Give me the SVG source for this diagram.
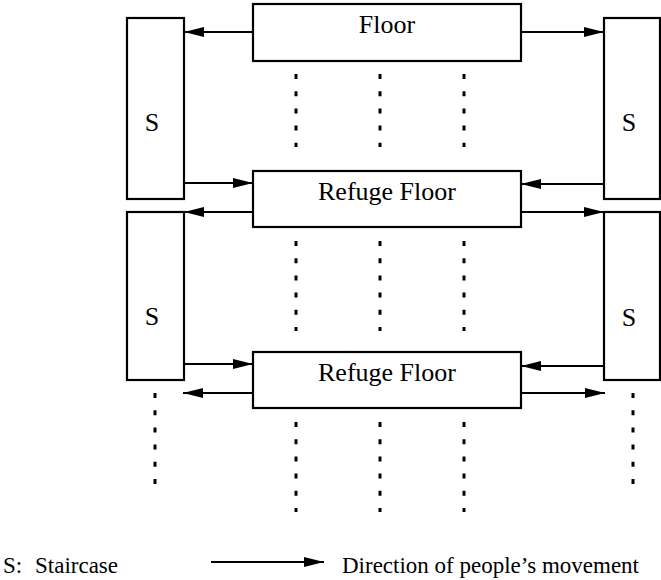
<svg xmlns="http://www.w3.org/2000/svg" width="661" height="580" viewBox="0 0 661 580">
<style>
.box{fill:#fff;stroke:#000;stroke-width:2.2}
.lbl{font-family:"Liberation Serif","Times New Roman",serif;font-size:26px;fill:#000}
.leg{font-family:"Liberation Serif","Times New Roman",serif;font-size:23px;fill:#000}
.arr{stroke:#000;stroke-width:2;fill:none;marker-end:url(#ah)}
.dot{stroke:#000;stroke-width:3;fill:none;stroke-dasharray:5 12.2}
</style>
<defs>
<marker id="ah" markerUnits="userSpaceOnUse" markerWidth="20" markerHeight="11" refX="20" refY="5.5" orient="auto">
<path d="M0,0.5 L20,5.5 L0,10.5 z" fill="#000"/>
</marker>
</defs>
<rect width="661" height="580" fill="#fff"/>
<g id="floor"><rect class="box" x="253" y="4" width="268" height="57"/><text class="lbl" x="387" y="33" text-anchor="middle">Floor</text></g>
<g id="refuge1"><rect class="box" x="253" y="171" width="268" height="56"/><text class="lbl" x="387" y="200" text-anchor="middle">Refuge Floor</text></g>
<g id="refuge2"><rect class="box" x="253" y="352" width="268" height="56"/><text class="lbl" x="387" y="381" text-anchor="middle">Refuge Floor</text></g>
<g id="stairL1"><rect class="box" x="127" y="18" width="57" height="181"/><text class="lbl" x="152" y="131" text-anchor="middle">S</text></g>
<g id="stairL2"><rect class="box" x="127" y="212" width="57" height="168"/><text class="lbl" x="152" y="325" text-anchor="middle">S</text></g>
<g id="stairR1"><rect class="box" x="604" y="18" width="56" height="181"/><text class="lbl" x="629" y="131" text-anchor="middle">S</text></g>
<g id="stairR2"><rect class="box" x="604" y="212" width="56" height="168"/><text class="lbl" x="629" y="326" text-anchor="middle">S</text></g>
<g id="connectors">
<line class="arr" x1="253" y1="32" x2="184" y2="32"/>
<line class="arr" x1="521" y1="32" x2="604" y2="32"/>
<line class="arr" x1="184" y1="183" x2="253" y2="183"/>
<line class="arr" x1="604" y1="184" x2="521" y2="184"/>
<line class="arr" x1="253" y1="212" x2="184" y2="212"/>
<line class="arr" x1="521" y1="212" x2="604" y2="212"/>
<line class="arr" x1="184" y1="364" x2="253" y2="364"/>
<line class="arr" x1="604" y1="366" x2="521" y2="366"/>
<line class="arr" x1="253" y1="393" x2="183" y2="393"/>
<line class="arr" x1="521" y1="393" x2="605" y2="393"/>
</g>
<g id="dots">
<line class="dot" x1="296" y1="74" x2="296" y2="147"/>
<line class="dot" x1="380" y1="74" x2="380" y2="147"/>
<line class="dot" x1="464" y1="74" x2="464" y2="147"/>
<line class="dot" x1="296" y1="241" x2="296" y2="331"/>
<line class="dot" x1="380" y1="241" x2="380" y2="331"/>
<line class="dot" x1="464" y1="241" x2="464" y2="331"/>
<line class="dot" x1="296" y1="422" x2="296" y2="512"/>
<line class="dot" x1="380" y1="422" x2="380" y2="512"/>
<line class="dot" x1="464" y1="422" x2="464" y2="512"/>
<line class="dot" x1="155" y1="393" x2="155" y2="486"/>
<line class="dot" x1="633" y1="393" x2="633" y2="486"/>
</g>
<g id="legend">
<text class="leg" x="3" y="573">S:</text>
<text class="leg" x="35" y="573">Staircase</text>
<line class="arr" x1="211" y1="562" x2="324" y2="562"/>
<text class="leg" x="342" y="573">Direction of people’s movement</text>
</g>
</svg>
